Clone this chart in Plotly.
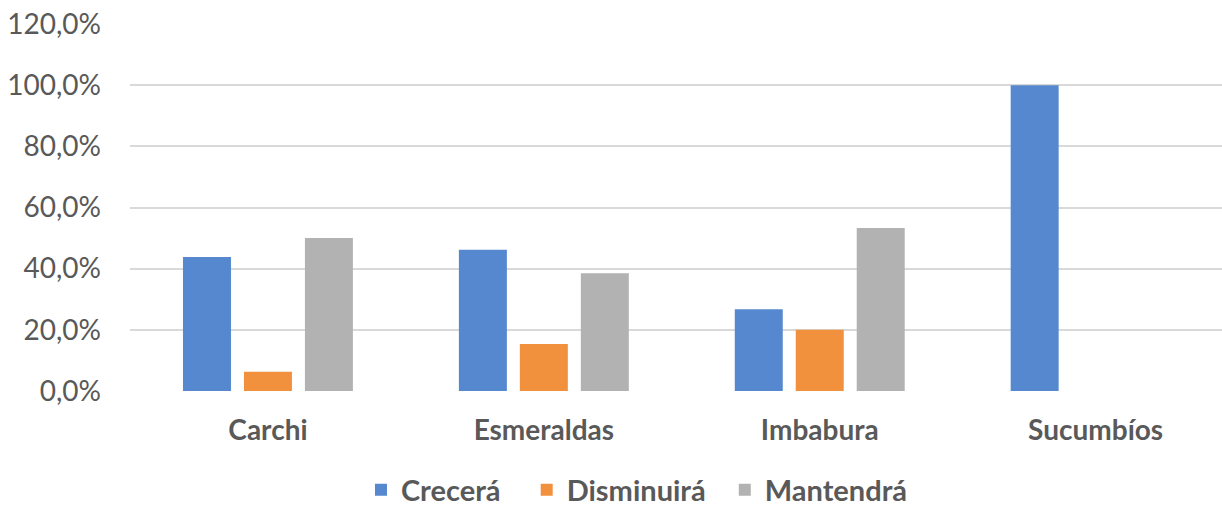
import plotly.graph_objects as go

categories = ["Carchi", "Esmeraldas", "Imbabura", "Sucumbíos"]
crecera = [43.8, 46.2, 26.7, 100.0]
disminuira = [6.3, 15.4, 20.0, 0.0]
mantendra = [50.0, 38.5, 53.3, 0.0]
series_names = ["Crecerá", "Disminuirá", "Mantendrá"]
tick_vals = [0, 20, 40, 60, 80, 100, 120]
tick_text = ["0,0%", "20,0%", "40,0%", "60,0%", "80,0%", "100,0%", "120,0%"]

colors = ["#5588CE", "#F2913D", "#B2B2B2"]
FONT = "Lato, 'Open Sans', sans-serif"
TXT = "#595959"
pad = ["\u00a0\u00a0\u00a0", "\u00a0\u00a0", ""]

fig = go.Figure()
for name, vals, col, p in zip(series_names, [crecera, disminuira, mantendra], colors, pad):
    fig.add_trace(go.Bar(x=categories, y=vals, name=name + p, marker=dict(color=col, line=dict(width=0))))

fig.update_layout(
    width=1222, height=506,
    margin=dict(l=130, r=0, t=24, b=115),
    paper_bgcolor="white", plot_bgcolor="white",
    barmode="group", bargap=0.337, bargroupgap=0.213,
    font=dict(family=FONT, color=TXT),
    showlegend=True,
    legend=dict(orientation="h", xref="container", x=0.2954, xanchor="left",
                yref="container", y=0.032, yanchor="middle",
                font=dict(family=FONT, size=29, color=TXT, weight="bold"),
                itemsizing="constant", traceorder="normal"),
)
fig.update_xaxes(range=[-0.5, 3.458], showgrid=False, showline=False, ticks="",
                 ticklabelstandoff=20,
                 tickfont=dict(family=FONT, size=28, color=TXT, weight="bold"))
fig.update_yaxes(range=[0, 120], tickvals=tick_vals, ticktext=tick_text, showgrid=True,
                 gridcolor="#D9D9D9", gridwidth=2, zeroline=False, showline=False, ticks="",
                 ticklabelstandoff=28,
                 tickfont=dict(family=FONT, size=28, color=TXT))

fig.write_html("out.html", config={"displayModeBar": False},
               post_script="document.body.style.margin='0';document.body.style.overflow='hidden';")
